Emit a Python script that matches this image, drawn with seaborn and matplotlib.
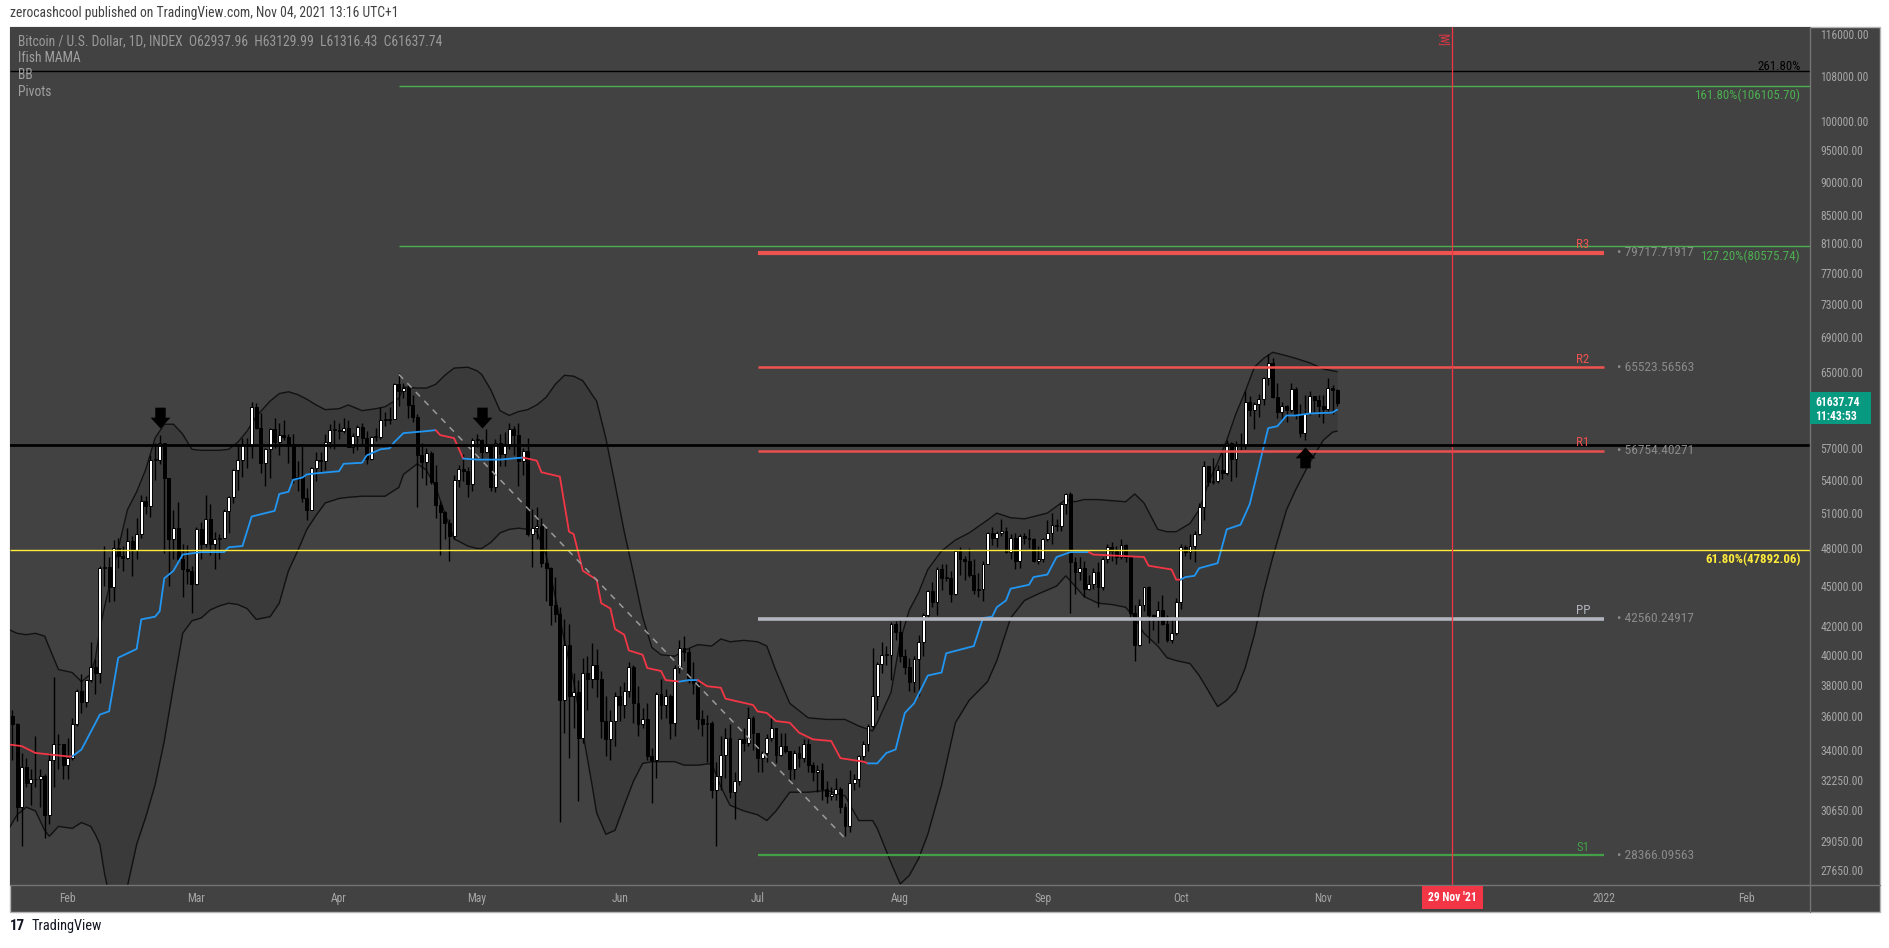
import numpy as np
import pandas as pd
import matplotlib
matplotlib.use("Agg")
import matplotlib.pyplot as plt
import matplotlib.dates as mdates
import matplotlib.ticker as mticker
import matplotlib.transforms as mtrans
from matplotlib.path import Path
from matplotlib.patches import Rectangle
from matplotlib.lines import Line2D
from matplotlib import font_manager
import seaborn as sns

# ---------------- data (prices in thousands of USD) ----------------
candle_start = "2021-01-19"
prev_close_k = 36.6

close_k = [
    # Jan 19-31
    36.0, 35.5, 30.8, 33.0, 32.1, 32.3, 32.3, 32.5, 30.4, 33.4, 34.3, 34.3, 33.1,
    # Feb
    33.5, 35.5, 37.6, 36.9, 38.3, 39.2, 38.8, 46.4, 46.5, 44.9,
    48.0, 47.4, 47.2, 48.6, 47.9, 49.2, 52.1, 51.6, 55.9, 55.9,
    57.5, 54.2, 48.8, 49.7, 47.1, 46.3, 46.2, 45.2,
    # Mar
    49.6, 48.4, 50.5, 48.4, 48.8, 48.9, 51.2, 52.4, 54.9, 55.9,
    57.3, 57.2, 61.2, 59.0, 55.6, 56.9, 58.9, 57.6, 58.3, 58.1,
    57.4, 54.1, 54.3, 52.3, 51.3, 55.1, 55.9, 55.8, 57.6, 58.8, 58.8,
    # Apr
    58.7, 59.0, 57.1, 58.2, 59.1, 58.0, 56.0, 58.1, 58.1, 59.8,
    59.8, 59.9, 63.6, 62.9, 63.2, 61.4, 60.1, 56.3, 55.7, 56.5,
    53.8, 51.7, 51.1, 50.1, 49.0, 54.0, 55.0, 54.8, 53.6, 57.8,
    # May
    57.8, 56.6, 57.2, 53.3, 57.5, 56.4, 57.4, 58.9, 58.3, 55.8,
    56.7, 49.2, 49.7, 49.9, 46.8, 46.4, 43.6, 42.9, 37.0, 40.7,
    37.3, 37.5, 34.7, 38.8, 38.4, 39.3, 38.4, 35.7, 34.6, 35.7, 37.3,
    # Jun
    36.7, 37.6, 39.2, 36.8, 35.5, 35.8, 33.6, 33.4, 37.4, 36.7,
    37.3, 35.6, 39.1, 40.5, 40.2, 38.3, 38.1, 35.8, 35.5, 35.6,
    31.7, 32.5, 33.7, 34.7, 31.6, 32.2, 34.6, 34.4, 35.9, 35.0,
    # Jul
    33.5, 33.8, 34.7, 35.3, 33.7, 34.2, 33.9, 32.9, 33.8, 33.5,
    34.3, 33.1, 32.7, 32.8, 31.8, 31.4, 31.5, 31.8, 30.8, 29.8,
    32.1, 32.3, 33.6, 34.3, 35.4, 37.3, 39.4, 40.0, 40.0, 42.2, 41.6,
    # Aug
    39.9, 39.2, 38.2, 39.7, 40.9, 42.8, 44.6, 43.8, 46.3, 45.6,
    45.6, 44.4, 47.8, 47.1, 47.0, 45.9, 44.7, 44.8, 46.7, 49.3,
    48.9, 49.3, 49.5, 47.7, 48.9, 47.0, 49.0, 48.9, 48.8, 47.0, 47.1,
    # Sep
    48.8, 49.3, 50.0, 49.9, 51.8, 52.7, 46.9, 46.1, 46.4, 44.8,
    45.2, 46.1, 44.9, 47.1, 48.1, 47.8, 47.3, 48.3, 47.3, 43.0,
    40.7, 43.6, 44.9, 42.8, 42.7, 43.2, 42.2, 41.0, 41.5, 43.8,
    # Oct
    48.1, 47.7, 48.2, 49.2, 51.5, 55.3, 53.8, 53.9, 54.9, 54.6,
    57.5, 56.0, 57.4, 57.3, 61.7, 60.9, 61.5, 62.0, 64.3, 66.0,
    62.2, 60.7, 61.3, 60.9, 63.1, 60.3, 58.5, 60.6, 62.3, 61.9, 61.3,
    # Nov 1-4
    61.0, 63.2, 62.94, 61.64,
]

high_k = [
    37.9, 36.4, 35.6, 33.8, 33.5, 32.9, 34.8, 32.9, 32.6, 33.8, 38.5, 34.9, 34.3,
    34.7, 35.9, 37.7, 38.7, 38.3, 40.9, 39.7, 46.6, 48.2, 47.3,
    48.7, 48.9, 48.2, 49.7, 49.0, 50.6, 52.6, 52.5, 56.3, 57.5,
    58.3, 57.5, 54.2, 51.3, 52.0, 48.4, 48.3, 46.6,
    49.8, 50.2, 52.6, 51.8, 49.4, 49.2, 51.4, 52.5, 55.0, 57.4,
    58.0, 58.0, 61.7, 61.6, 60.6, 57.0, 59.0, 60.0, 59.5, 59.8,
    58.4, 58.4, 55.8, 57.2, 53.2, 55.2, 56.6, 56.6, 58.4, 59.4, 59.8,
    59.5, 60.0, 59.8, 58.5, 59.3, 59.5, 58.7, 58.2, 59.0, 61.2,
    60.7, 61.2, 63.8, 64.9, 63.8, 63.6, 62.5, 60.4, 57.5, 57.0,
    56.7, 55.4, 52.1, 51.2, 50.5, 54.4, 55.4, 56.4, 55.2, 58.0,
    58.4, 57.9, 58.9, 57.2, 57.9, 58.4, 58.6, 59.5, 59.2, 59.5,
    57.0, 58.0, 51.4, 51.5, 50.6, 49.7, 46.5, 45.7, 43.4, 42.5,
    42.2, 38.8, 38.3, 39.8, 39.9, 40.8, 40.4, 38.9, 37.3, 36.4, 37.5,
    37.9, 38.2, 39.5, 39.3, 37.9, 36.5, 36.8, 34.1, 37.5, 38.4,
    37.7, 37.4, 39.3, 41.0, 41.3, 40.5, 39.5, 38.2, 36.4, 36.1,
    35.7, 33.3, 34.8, 35.3, 35.5, 32.7, 34.7, 35.3, 36.6, 36.0,
    35.0, 33.9, 34.9, 35.9, 35.3, 35.0, 35.0, 33.9, 34.0, 34.2,
    34.6, 34.6, 33.3, 33.1, 33.2, 32.2, 31.9, 32.4, 31.9, 31.0,
    32.8, 32.6, 33.7, 34.5, 35.5, 40.5, 39.5, 40.9, 40.6, 42.3, 42.4,
    42.6, 40.4, 39.8, 39.9, 41.4, 43.0, 44.7, 45.3, 46.5, 46.7,
    46.7, 46.2, 47.9, 48.1, 47.4, 48.0, 47.1, 46.0, 47.0, 49.4,
    49.8, 49.5, 50.5, 49.8, 49.2, 49.3, 49.2, 49.3, 49.6, 48.9, 48.2,
    48.9, 50.4, 51.0, 50.5, 51.9, 52.8, 52.9, 47.3, 47.3, 47.0,
    45.9, 46.4, 46.9, 47.3, 48.4, 48.5, 48.2, 48.8, 48.4, 47.3,
    43.6, 44.0, 44.9, 45.0, 42.9, 43.9, 44.3, 42.8, 42.6, 44.1,
    48.4, 48.3, 49.2, 49.5, 51.9, 55.8, 55.3, 56.1, 55.4, 56.5,
    57.8, 57.6, 57.7, 58.5, 62.9, 62.3, 61.7, 62.6, 64.4, 67.0,
    66.6, 63.7, 61.7, 61.4, 63.7, 63.3, 61.5, 62.5, 62.9, 62.3, 62.4,
    62.4, 64.3, 63.5, 63.13,
]

low_k = [
    35.9, 33.4, 30.1, 28.8, 31.9, 30.9, 31.9, 30.8, 29.2, 29.9, 31.9, 32.9, 32.3,
    32.3, 33.4, 35.4, 36.2, 36.6, 38.2, 37.4, 38.1, 45.0, 43.8,
    43.9, 46.4, 46.2, 47.1, 45.8, 47.1, 48.9, 50.9, 50.7, 54.0,
    55.5, 47.6, 45.0, 47.1, 47.0, 44.2, 45.2, 43.0,
    45.1, 47.1, 48.1, 47.5, 46.3, 47.1, 48.9, 49.3, 51.9, 53.1,
    54.3, 55.1, 56.1, 58.9, 54.6, 53.4, 54.2, 57.0, 56.3, 57.8,
    55.6, 53.7, 53.0, 52.0, 50.4, 51.3, 53.9, 54.7, 54.9, 57.0, 56.9,
    57.9, 58.5, 57.1, 56.5, 56.8, 57.3, 55.5, 55.9, 57.7, 57.9,
    59.2, 59.4, 59.9, 61.3, 62.1, 60.0, 59.6, 51.5, 54.2, 53.5,
    53.6, 50.6, 47.5, 48.8, 47.0, 48.8, 53.3, 53.9, 52.4, 53.0,
    57.1, 56.0, 56.5, 53.0, 52.9, 55.3, 55.3, 56.9, 56.3, 53.4,
    54.4, 49.0, 46.5, 48.8, 46.5, 43.9, 42.1, 42.3, 30.0, 35.0,
    33.5, 35.3, 31.1, 34.4, 36.4, 37.8, 37.2, 34.7, 33.6, 33.4, 34.2,
    35.7, 35.9, 37.2, 35.6, 34.8, 35.3, 33.4, 31.0, 32.4, 35.8,
    35.9, 34.6, 34.8, 38.8, 39.6, 38.1, 37.4, 35.2, 34.8, 33.3,
    31.3, 28.8, 31.7, 32.4, 31.3, 30.2, 32.0, 33.9, 34.2, 34.0,
    32.7, 32.7, 33.3, 34.5, 33.2, 33.6, 33.8, 32.2, 32.3, 33.0,
    33.3, 32.7, 32.2, 31.6, 31.2, 31.0, 31.2, 31.2, 30.5, 29.3,
    29.5, 31.7, 31.9, 33.4, 33.9, 35.3, 36.4, 38.8, 39.3, 38.3, 41.0,
    39.5, 38.7, 37.6, 37.5, 37.3, 39.9, 42.5, 43.4, 42.8, 44.7,
    45.4, 43.8, 44.3, 45.9, 45.5, 45.7, 44.4, 44.2, 43.9, 46.7,
    48.3, 48.1, 49.0, 47.6, 47.1, 46.3, 46.4, 48.4, 48.0, 46.9, 46.7,
    46.9, 48.6, 48.4, 49.5, 49.5, 50.9, 43.0, 44.4, 45.5, 44.2,
    44.7, 44.8, 43.4, 44.7, 46.8, 47.0, 46.7, 47.1, 46.9, 42.5,
    39.6, 40.6, 43.1, 40.8, 41.7, 40.8, 42.1, 40.9, 40.8, 41.4,
    43.3, 47.4, 47.1, 46.9, 49.1, 50.4, 53.4, 53.6, 53.7, 54.1,
    54.4, 53.9, 54.3, 56.8, 56.9, 60.2, 58.9, 60.1, 61.4, 63.5,
    62.1, 60.0, 59.7, 59.6, 60.7, 59.9, 58.1, 57.8, 60.3, 60.7, 60.1,
    59.5, 60.7, 60.4, 61.32,
]

# Bollinger bands
bb_dates = [
    "2021-01-19", "2021-01-21", "2021-01-23", "2021-01-25", "2021-01-27", "2021-01-28", "2021-01-30",
    "2021-02-02", "2021-02-04", "2021-02-06", "2021-02-07", "2021-02-08", "2021-02-09", "2021-02-10",
    "2021-02-12", "2021-02-14", "2021-02-16", "2021-02-18", "2021-02-20", "2021-02-22", "2021-02-24",
    "2021-02-26", "2021-02-28", "2021-03-02", "2021-03-04", "2021-03-06", "2021-03-08", "2021-03-10",
    "2021-03-12", "2021-03-14", "2021-03-17", "2021-03-19", "2021-03-21", "2021-03-23", "2021-03-25",
    "2021-03-27", "2021-03-29", "2021-04-01", "2021-04-03", "2021-04-06", "2021-04-09", "2021-04-11",
    "2021-04-14", "2021-04-15", "2021-04-18", "2021-04-20", "2021-04-22", "2021-04-24", "2021-04-26",
    "2021-04-29", "2021-05-01", "2021-05-02", "2021-05-04", "2021-05-06", "2021-05-08", "2021-05-10",
    "2021-05-12", "2021-05-14", "2021-05-16", "2021-05-18", "2021-05-20", "2021-05-22", "2021-05-24",
    "2021-05-26", "2021-05-27", "2021-05-29", "2021-05-31", "2021-06-02", "2021-06-04", "2021-06-06",
    "2021-06-08", "2021-06-10", "2021-06-13", "2021-06-15", "2021-06-18", "2021-06-21", "2021-06-23",
    "2021-06-25", "2021-06-28", "2021-07-01", "2021-07-03", "2021-07-05", "2021-07-08", "2021-07-12",
    "2021-07-16", "2021-07-20", "2021-07-23", "2021-07-26", "2021-07-27", "2021-07-30", "2021-08-01",
    "2021-08-03", "2021-08-05", "2021-08-07", "2021-08-10", "2021-08-13", "2021-08-16", "2021-08-20",
    "2021-08-22", "2021-08-25", "2021-08-28", "2021-08-31", "2021-09-02", "2021-09-04", "2021-09-06",
    "2021-09-08", "2021-09-10", "2021-09-13", "2021-09-16", "2021-09-19", "2021-09-21", "2021-09-23",
    "2021-09-26", "2021-09-28", "2021-09-30", "2021-10-03", "2021-10-05", "2021-10-07", "2021-10-09",
    "2021-10-11", "2021-10-13", "2021-10-15", "2021-10-17", "2021-10-19", "2021-10-21", "2021-10-24",
    "2021-10-26", "2021-10-29", "2021-11-01", "2021-11-03", "2021-11-04",
]
bb_upper_k = [
    41.8, 41.5, 41.4, 41.5, 41.3, 40.5, 39.0,
    38.8, 38.2, 38.7, 39.7, 41.8, 43.4, 44.9,
    48.0, 51.3, 52.9, 55.0, 58.0, 59.4, 59.4,
    58.4, 56.9, 56.8, 56.8, 56.8, 56.9, 57.6,
    58.7, 60.2, 61.8, 62.6, 62.8, 62.5, 62.0,
    61.4, 60.9, 61.0, 61.4, 60.8, 61.0, 61.2,
    62.1, 63.3, 63.2, 63.2, 63.6, 64.6, 65.4,
    65.5, 65.1, 64.7, 63.0, 60.8, 60.3, 60.7,
    60.9, 61.4, 62.2, 63.6, 64.6, 64.5, 64.0,
    62.5, 61.8, 58.0, 53.6, 49.4, 46.0, 42.7,
    40.5, 40.0, 39.9, 40.3, 40.7, 40.6, 41.1,
    40.9, 41.0, 40.9, 40.6, 38.9, 36.8, 35.9,
    35.8, 35.8, 35.4, 35.1, 35.6, 37.5, 41.0,
    43.2, 44.5, 46.3, 47.8, 48.7, 49.3, 50.4,
    51.0, 50.6, 50.5, 50.8, 51.0, 51.6, 52.2,
    52.0, 52.2, 52.2, 52.1, 52.0, 52.7, 51.9,
    49.6, 49.4, 49.4, 50.1, 51.3, 53.7, 55.6,
    57.8, 60.5, 62.8, 65.5, 66.5, 67.2, 66.8,
    66.5, 66.0, 65.3, 65.1, 65.0,
]
bb_lower_k = [
    29.6, 30.4, 30.8, 30.6, 29.6, 29.3, 29.8,
    29.7, 30.0, 29.8, 29.4, 28.9, 27.5, 26.5,
    26.0, 26.9, 28.9, 30.3, 32.0, 34.5, 37.9,
    41.5, 42.4, 42.6, 43.2, 43.5, 43.7, 43.6,
    43.3, 42.5, 42.7, 43.7, 46.2, 47.8, 49.6,
    50.8, 51.9, 52.3, 52.4, 52.5, 52.5, 52.5,
    53.3, 54.5, 55.5, 54.9, 53.3, 51.0, 48.8,
    48.2, 48.0, 48.0, 48.5, 49.3, 49.6, 49.7,
    49.6, 49.4, 47.5, 44.2, 41.0, 38.2, 35.0,
    32.0, 30.5, 29.4, 29.6, 30.9, 32.2, 33.2,
    33.3, 33.3, 33.3, 33.1, 33.1, 33.2, 31.9,
    30.9, 30.6, 30.4, 30.1, 30.6, 31.6, 31.6,
    31.7, 31.4, 30.1, 30.1, 29.7, 28.0, 27.0,
    27.4, 28.2, 29.4, 32.0, 35.6, 37.0, 38.2,
    39.6, 42.6, 43.9, 44.4, 44.7, 45.0, 45.8,
    45.0, 44.2, 43.7, 43.6, 43.4, 42.6, 41.5,
    40.6, 39.8, 39.6, 39.4, 38.6, 37.6, 36.6,
    37.0, 37.6, 39.1, 41.4, 44.5, 47.3, 51.3,
    53.1, 55.6, 57.8, 58.6, 58.7,
]

# Ifish MAMA line (1 = blue / rising, 0 = red / falling)
mama_dates = [
    "2021-01-19", "2021-01-22", "2021-01-25", "2021-02-01", "2021-02-02",
    "2021-02-04", "2021-02-08", "2021-02-10", "2021-02-12", "2021-02-16", "2021-02-17", "2021-02-20",
    "2021-02-21", "2021-02-22", "2021-02-24", "2021-02-26", "2021-03-02", "2021-03-07", "2021-03-08",
    "2021-03-11", "2021-03-13", "2021-03-18", "2021-03-19", "2021-03-21", "2021-03-22", "2021-03-24",
    "2021-03-25", "2021-03-27", "2021-04-01", "2021-04-02", "2021-04-06", "2021-04-07", "2021-04-10",
    "2021-04-12", "2021-04-13", "2021-04-15", "2021-04-20", "2021-04-22",
    "2021-04-23", "2021-04-26", "2021-04-28",
    "2021-05-01", "2021-05-06", "2021-05-11",
    "2021-05-14", "2021-05-15", "2021-05-19", "2021-05-21", "2021-05-22", "2021-05-24", "2021-05-27",
    "2021-05-28", "2021-05-30", "2021-05-31", "2021-06-02", "2021-06-03", "2021-06-06", "2021-06-07",
    "2021-06-10", "2021-06-11", "2021-06-14",
    "2021-06-16", "2021-06-18",
    "2021-06-20", "2021-06-23", "2021-06-24", "2021-06-30", "2021-07-01", "2021-07-03", "2021-07-05",
    "2021-07-08", "2021-07-10", "2021-07-13", "2021-07-17", "2021-07-19", "2021-07-24", "2021-07-25",
    "2021-07-27", "2021-07-29", "2021-07-31", "2021-08-02", "2021-08-04", "2021-08-07", "2021-08-10",
    "2021-08-11", "2021-08-17", "2021-08-19", "2021-08-21", "2021-08-22", "2021-08-24", "2021-08-25",
    "2021-08-29", "2021-08-30", "2021-09-02", "2021-09-04", "2021-09-07", "2021-09-11",
    "2021-09-12", "2021-09-23", "2021-09-24", "2021-09-29", "2021-09-30", "2021-10-01",
    "2021-10-02", "2021-10-04", "2021-10-05", "2021-10-09", "2021-10-11", "2021-10-14", "2021-10-16",
    "2021-10-20", "2021-10-22", "2021-10-24", "2021-10-26", "2021-10-29", "2021-11-03", "2021-11-04",
]
mama_k = [
    34.3, 34.2, 33.8, 33.6, 33.6,
    34.0, 36.1, 36.3, 39.8, 40.4, 42.5, 42.7,
    43.1, 45.6, 46.2, 47.5, 47.7, 47.7, 48.1,
    48.2, 50.7, 51.2, 52.7, 52.9, 54.0, 54.2,
    54.5, 54.6, 54.8, 55.5, 55.6, 56.3, 56.9,
    57.0, 57.6, 58.5, 58.7, 58.8,
    58.3, 58.0, 56.0,
    55.9, 55.9, 56.1,
    55.8, 54.7, 54.3, 49.4, 49.2, 46.2, 45.5,
    43.7, 43.3, 41.8, 41.4, 40.3, 40.0, 39.1,
    38.9, 38.3, 38.2,
    38.3, 38.3,
    37.9, 37.8, 37.1, 36.7, 36.3, 36.2, 35.7,
    35.6, 35.0, 34.6, 34.5, 33.5, 33.3, 33.2,
    33.2, 33.8, 34.0, 36.2, 36.8, 38.6, 38.8,
    40.1, 40.6, 42.6, 42.7, 43.4, 43.9, 44.8,
    45.1, 45.7, 45.9, 47.3, 47.7, 47.7,
    47.5, 47.3, 46.6, 46.3, 45.5, 45.5,
    45.7, 45.8, 46.4, 46.8, 49.6, 50.0, 51.8,
    59.0, 59.2, 60.3, 60.3, 60.5, 60.6, 60.9,
]
mama_up = [0] * 5 + [1] * 33 + [0] * 3 + [1] * 3 + [0] * 17 + [1] * 2 + [0] * 14 + [1] * 20 + [0] * 6 + [1] * 14

pivot_names = ["R3", "R2", "R1", "PP", "S1"]
pivot_values = [79717.71917, 65523.56563, 56754.40271, 42560.24917, 28366.09563]
pivot_colors = ["#ef5350", "#ef5350", "#e85050", "#b2b5be", "#43a047"]
pivot_widths = [3.0, 1.8, 1.8, 2.6, 1.6]
pivot_start, pivot_end = "2021-07-01", "2022-01-01"

fib_labels = ["261.80%", "161.80%(106105.70)", "127.20%(80575.74)", "61.80%(47892.06)"]
fib_values = [108950, 106105.70, 80575.74, 47892.06]
fib_starts = [None, "2021-04-14", "2021-04-14", None]
fib_colors = ["#000000", "#4caf50", "#4caf50", "#ffeb3b"]

hline_value = 57300
trend_dates = ["2021-04-14", "2021-07-20"]
trend_k = [64.7, 29.2]

arrow_dates = ["2021-02-21", "2021-05-02", "2021-10-28"]
arrow_tip_k = [59.0, 59.0, 57.1]
arrow_dirs = ["down", "down", "up"]

marker_date = "2021-11-29"
last_price = 61637.74

price_ticks = [116000, 108000, 100000, 95000, 90000, 85000, 81000, 77000, 73000, 69000, 65000,
               57000, 54000, 51000, 48000, 45000, 42000, 40000, 38000, 36000, 34000,
               32250, 30650, 29050, 27650]
month_ticks = ["2021-02-01", "2021-03-01", "2021-04-01", "2021-05-01", "2021-06-01", "2021-07-01",
               "2021-08-01", "2021-09-01", "2021-10-01", "2021-11-01", "2022-01-01", "2022-02-01"]
month_labels = ["Feb", "Mar", "Apr", "May", "Jun", "Jul", "Aug", "Sep", "Oct", "Nov", "2022", "Feb"]

# ---------------- style ----------------
sns.set_theme(style="dark")


def pick_font():
    for name in ["Liberation Sans Narrow", "Roboto Condensed"]:
        try:
            font_manager.findfont(font_manager.FontProperties(family=name), fallback_to_default=False)
            return name
        except Exception:
            pass
    return "DejaVu Sans"


FONT = pick_font()
FS = 8.4 if FONT != "DejaVu Sans" else 7.2
plt.rcParams["font.family"] = [FONT, "DejaVu Sans"]

BG = "#424242"
BAND = "#3a3a3a"
AXTXT = "#a6a6a6"
BLUE = "#2196f3"
RED = "#f23645"

W, H = 1890, 948


def fx(p):
    return p / W


def fy(p):
    return 1 - p / H


fig = plt.figure(figsize=(W / 100, H / 100), dpi=100)
fig.patch.set_facecolor("white")
fig.add_artist(Rectangle((fx(10), fy(912)), fx(1880) - fx(10), fy(26.7) - fy(912),
                         transform=fig.transFigure, facecolor=BG, edgecolor="#b4b4b4", lw=1, zorder=0))

ax = fig.add_axes([fx(10), fy(885), 1800 / W, (885 - 26.7) / H])
ax.set_facecolor(BG)
ax.set_yscale("log")

# ---------------- candles ----------------
n = min(len(close_k), len(high_k), len(low_k))
dates = pd.date_range(candle_start, periods=n, freq="D")
x = mdates.date2num(dates)
close = np.array(close_k[:n]) * 1000
high = np.array(high_k[:n]) * 1000
low = np.array(low_k[:n]) * 1000
open_ = np.r_[prev_close_k * 1000, close[:-1]]
open_[-1] = 62937.96

# Bollinger band fill + lines
bx = mdates.date2num(pd.to_datetime(bb_dates))
bu = np.array(bb_upper_k) * 1000
bl = np.array(bb_lower_k) * 1000
ax.fill_between(bx, bl, bu, color=BAND, lw=0, zorder=1)
sns.lineplot(x=bx, y=bu, ax=ax, color="#111111", lw=1.0, estimator=None, sort=False, zorder=3)
sns.lineplot(x=bx, y=bl, ax=ax, color="#111111", lw=1.0, estimator=None, sort=False, zorder=3)

up = close >= open_
lo_b = np.minimum(open_, close)
hi_b = np.maximum(open_, close)
hgt = np.maximum(hi_b - lo_b, hi_b * 0.0015)
ax.vlines(x, low, high, color="black", lw=1.0, zorder=5)
ax.bar(x[up], hgt[up], bottom=lo_b[up], width=0.64, color="white", edgecolor="black", linewidth=0.7, zorder=6)
ax.bar(x[~up], hgt[~up], bottom=lo_b[~up], width=0.64, color="black", edgecolor="black", linewidth=0.7, zorder=6)

# MAMA coloured segments
mx = mdates.date2num(pd.to_datetime(mama_dates))
mv = np.array(mama_k) * 1000
flags = list(mama_up[:len(mx)]) + [1] * max(0, len(mx) - len(mama_up))
i = 1
while i < len(mx):
    j = i
    while j + 1 < len(mx) and flags[j + 1] == flags[i]:
        j += 1
    seg = slice(i - 1, j + 1)
    sns.lineplot(x=mx[seg], y=mv[seg], ax=ax, color=BLUE if flags[i] else RED, lw=1.3,
                 estimator=None, sort=False, zorder=7)
    i = j + 1

# ---------------- limits ----------------
feb1 = mdates.date2num(pd.Timestamp("2021-02-01"))
x_left, x_right = feb1 - 12.54, feb1 + 378.8
ax.set_xlim(x_left, x_right)
ax.set_ylim(26950, 117460)

# fib levels
for lab, val, st, col in zip(fib_labels, fib_values, fib_starts, fib_colors):
    xs = x_left if st is None else mdates.date2num(pd.Timestamp(st))
    ax.hlines(val, xs, x_right, color=col, lw=1.0, zorder=8)

ax.axhline(hline_value, color="black", lw=2.0, zorder=9)

# dashed trend line
tx = mdates.date2num(pd.to_datetime(trend_dates))
ax.plot(tx, np.array(trend_k) * 1000, color="#9a9a9a", lw=1.1, ls=(0, (4, 4)), zorder=7)

# pivots
px0 = mdates.date2num(pd.Timestamp(pivot_start))
px1 = mdates.date2num(pd.Timestamp(pivot_end))
for val, col, lw in zip(pivot_values, pivot_colors, pivot_widths):
    ax.hlines(val, px0, px1, color=col, lw=lw, zorder=8)

# vertical marker
ax.axvline(mdates.date2num(pd.Timestamp(marker_date)), color=RED, lw=0.9, zorder=8)

# arrows
down_arrow = Path([(-0.476, 0.52), (0, 0), (0.476, 0.52), (0.25, 0.52), (0.25, 1.0),
                   (-0.25, 1.0), (-0.25, 0.52), (-0.476, 0.52)],
                  [Path.MOVETO] + [Path.LINETO] * 6 + [Path.CLOSEPOLY])
up_arrow = Path([(vx, -vy) for vx, vy in down_arrow.vertices], down_arrow.codes)
for d, tip, kind in zip(arrow_dates, arrow_tip_k, arrow_dirs):
    ax.plot(mdates.date2num(pd.Timestamp(d)), tip * 1000, ls="none",
            marker=down_arrow if kind == "down" else up_arrow, ms=30,
            color="black", mec="black", mew=0, zorder=10)

# ---------------- axes styling ----------------
for s in ax.spines.values():
    s.set_visible(False)
ax.grid(False)
ax.set_xlabel("")
ax.set_ylabel("")
ax.yaxis.tick_right()
ax.yaxis.set_minor_locator(mticker.NullLocator())
ax.yaxis.set_minor_formatter(mticker.NullFormatter())
ax.set_yticks(price_ticks)
ax.set_yticklabels([f"{t:.2f}" for t in price_ticks])
ax.tick_params(axis="y", which="both", length=0, pad=7.5, labelsize=FS, labelcolor=AXTXT)
ax.set_xticks(mdates.date2num(pd.to_datetime(month_ticks)))
ax.set_xticklabels(month_labels)
ax.tick_params(axis="x", length=0, pad=5, labelsize=FS, labelcolor=AXTXT)

# separators
fig.add_artist(Line2D([fx(1810), fx(1810)], [fy(26.7), fy(912)], color="#747474", lw=1, zorder=3))
fig.add_artist(Line2D([fx(10), fx(1880)], [fy(885), fy(885)], color="#747474", lw=1, zorder=3))

# ---------------- labels ----------------
blend = mtrans.blended_transform_factory(fig.transFigure, ax.transData)
for name, val, col in zip(pivot_names, pivot_values, pivot_colors):
    ax.annotate(name, xy=(fx(1583), val), xycoords=blend, xytext=(0, 1), textcoords="offset points",
                ha="center", va="bottom", color=col, fontsize=FS + 1.0, zorder=11, annotation_clip=False)
    ax.annotate(f"\u2022 {val:.5f}", xy=(fx(1617), val), xycoords=blend, ha="left", va="center",
                color="#8a8a8a", fontsize=FS + 1.2, zorder=11, annotation_clip=False)

fib_dy = [3, -7, -7, -7]
for lab, val, col, dy in zip(fib_labels, fib_values, fib_colors, fib_dy):
    ax.annotate(lab, xy=(fx(1801), val), xycoords=blend, xytext=(0, dy), textcoords="offset points",
                ha="right", va="center", color=col, fontsize=FS + 0.9,
                fontweight="bold" if col == "#ffeb3b" else "normal", zorder=11, annotation_clip=False)

# last price box
fig.add_artist(Rectangle((fx(1810), fy(424)), fx(1871) - fx(1810), fy(392) - fy(424),
                         transform=fig.transFigure, facecolor="#089981", edgecolor="none", zorder=4))
fig.text(fx(1815), fy(402), f"{last_price:.2f}", color="white", fontsize=FS, fontweight="bold",
         ha="left", va="center", zorder=5)
fig.text(fx(1815), fy(416), "11:43:53", color="white", fontsize=FS, fontweight="bold",
         ha="left", va="center", zorder=5)

# date box on the x axis
fig.add_artist(Rectangle((fx(1422), fy(909)), fx(1483) - fx(1422), fy(886) - fy(909),
                         transform=fig.transFigure, facecolor=RED, edgecolor="none", zorder=4))
fig.text(fx(1452.5), fy(897.5), "29 Nov '21", color="white", fontsize=FS, fontweight="bold",
         ha="center", va="center", zorder=5)
fig.text(fx(1443), fy(39), "[W]", color=RED, fontsize=FS - 1.0, rotation=270,
         ha="center", va="center", zorder=5)

# legend lines
LFS = FS + 1.4
fig.text(fx(18), fy(41), "Bitcoin / U.S. Dollar, 1D, INDEX  O62937.96  H63129.99  L61316.43  C61637.74",
         color="#9a9a9a", fontsize=LFS, ha="left", va="center")
for txt, yy in zip(["Ifish MAMA", "BB", "Pivots"], [58, 75, 92]):
    fig.text(fx(18), fy(yy), txt, color="#a0a0a0", fontsize=LFS, ha="left", va="center")

# header / footer
fig.text(fx(10), fy(13), "zerocashcool published on TradingView.com, Nov 04, 2021 13:16 UTC+1",
         color="#404040", fontsize=LFS, ha="left", va="center")
fig.text(fx(10), fy(926), "17", color="#131722", fontsize=LFS + 1, fontweight="bold", ha="left", va="center")
fig.text(fx(32), fy(926), "TradingView", color="#131722", fontsize=LFS + 0.6, ha="left", va="center")

fig.savefig("out.png", dpi=100, facecolor="white")
